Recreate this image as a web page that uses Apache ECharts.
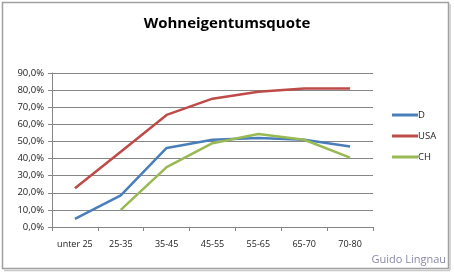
<!DOCTYPE html>
<html><head><meta charset="utf-8">
<script src="https://cdn.jsdelivr.net/npm/echarts@6/dist/echarts.min.js"></script>
<style>html,body{margin:0;padding:0;background:#fff}#c{width:454px;height:274px}</style>
</head><body><div id="c"></div>
<script>
const categories = ['unter 25','25-35','35-45','45-55','55-65','65-70','70-80'];
const seriesD = [4.7, 18.5, 46.2, 51, 52, 51, 47];
const seriesUSA = [22.7, 44, 65.5, 75, 79, 81, 81];
const seriesCH = [null, 10, 35, 49, 54.4, 51, 40.5];
const yTicks = [0, 10, 20, 30, 40, 50, 60, 70, 80, 90];
const titleText = 'Wohneigentumsquote';
const credit = 'Guido Lingnau';

const chart = echarts.init(document.getElementById('c'), null, {renderer:'canvas'});
const font = 'Open Sans';
const mk = (name, data, color) => ({
  name, type:'line', data, symbol:'none', connectNulls:false,
  lineStyle:{width:2.5, color}, itemStyle:{color}
});
chart.setOption({
  animation:false,
  title:{text:titleText, left:'center', top:11, textStyle:{fontFamily:font, fontSize:15, fontWeight:'bold', color:'#000'}},
  graphic:[
    {type:'rect', shape:{x:2.5, y:2.5, width:446, height:266}, style:{fill:null, stroke:'#a0a0a0', lineWidth:1.5}},
    {type:'line', shape:{x1:450, y1:4, x2:450, y2:270}, style:{stroke:'#c8c8c8', lineWidth:1.5}},
    {type:'line', shape:{x1:4, y1:270.5, x2:450, y2:270.5}, style:{stroke:'#c8c8c8', lineWidth:1.5}},
    {type:'text', right:8, top:254, style:{text:credit, font:'11px "Open Sans"', fill:'#8a88a8'}}
  ],
  legend:{
    orient:'vertical', left:387, top:105, itemWidth:26, itemHeight:3, itemGap:11,
    icon:'rect', textStyle:{fontFamily:font, fontSize:9.5, color:'#222', padding:[0,0,0,-5]},
    data:['D','USA','CH']
  },
  grid:{left:52, right:81, top:73, bottom:47},
  xAxis:{type:'category', data:categories, boundaryGap:true,
    axisLine:{lineStyle:{color:'#868686', width:1}},
    axisTick:{show:true, length:4, lineStyle:{color:'#868686'}},
    axisLabel:{fontFamily:font, fontSize:9, color:'#222', margin:13, interval:0, hideOverlap:false}
  },
  yAxis:{type:'value', min:yTicks[0], max:yTicks[yTicks.length-1], interval:10,
    axisLine:{show:true, lineStyle:{color:'#868686'}},
    axisTick:{show:true, length:4, lineStyle:{color:'#868686'}},
    splitLine:{lineStyle:{color:'#868686', width:1}},
    axisLabel:{fontFamily:font, fontSize:9.5, color:'#222', margin:8,
      formatter:v=>v.toFixed(1).replace('.',',')+'%'}
  },
  series:[mk('D', seriesD, '#4a7ebb'), mk('USA', seriesUSA, '#be4b48'), mk('CH', seriesCH, '#98b954')]
});
</script></body></html>
